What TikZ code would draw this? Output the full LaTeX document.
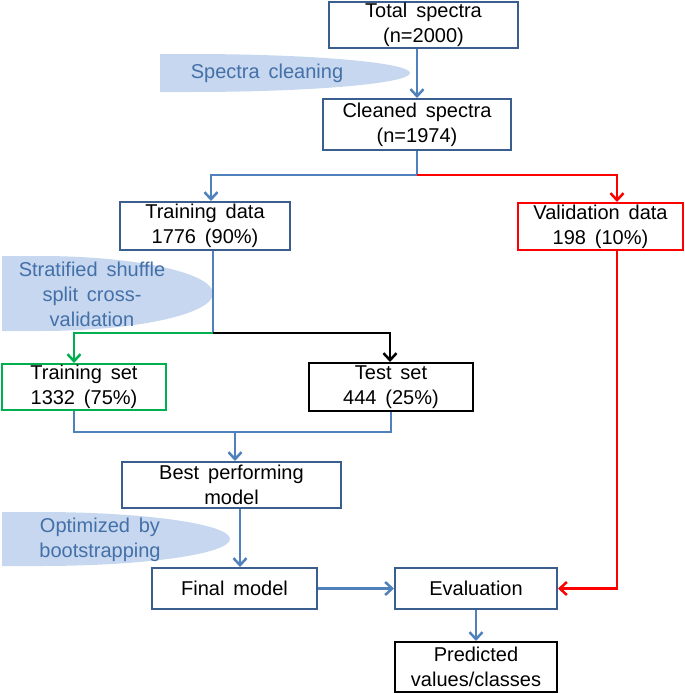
\documentclass[tikz,border=0pt]{standalone}
\usepackage{fontspec}
\setmainfont{Liberation Sans}[WordSpace=1.6]
\usetikzlibrary{arrows.meta,positioning}
\definecolor{boxblue}{HTML}{3A5F8F}
\definecolor{lineblue}{HTML}{4F81BD}
\definecolor{bubblefill}{HTML}{C6D7EF}
\definecolor{bubbletext}{HTML}{4470A8}
\definecolor{setgreen}{HTML}{00B050}
\tikzset{
  basic/.style={
  draw=boxblue,
  line width=2pt,
  fill=white,
  align=center,
  inner sep=0pt,
  font=\fontsize{20}{25}\selectfont,
  },
  boxsize/.style 2 args={minimum width=#1pt, minimum height=#2pt},
  bubble/.style={align=center, text=bubbletext, font=\fontsize{20}{25}\selectfont},
  conn/.style={draw=lineblue, line width=2.5pt},
  arr/.style={-{Straight Barb[length=7pt,width=13pt]}},
}
\begin{document}
\begin{tikzpicture}[x=1pt,y=-1pt]
\useasboundingbox (0,0) rectangle (685,694);

% the shaded notes
\fill[bubblefill] (160,54) -- (190,54) arc[start angle=-90,end angle=90,x radius=220,y radius=19] -- (160,92) -- cycle;
\node[bubble] (clean) at (267,73) {Spectra cleaning};

\fill[bubblefill] (2,256) -- (40,256) arc[start angle=-90,end angle=90,x radius=173,y radius=37.5] -- (2,331) -- cycle;
\node[bubble] (shuffle) at (92,294) {Stratified shuffle\\split cross-\\validation};

\fill[bubblefill] (2,512) -- (40,512) arc[start angle=-90,end angle=90,x radius=190,y radius=27] -- (2,566) -- cycle;
\node[bubble] (boot) at (100,540) {Optimized by\\bootstrapping};

% the boxes
\node[basic, boxsize={189}{46}] (total) at (423.5,25) {Total spectra\\(n=2000)};
\node[basic, boxsize={188}{51}] (cleaned) at (417,124.5) {Cleaned spectra\\(n=1974)};
\node[basic, boxsize={170}{48}] (traindata) at (205,226) {Training data\\1776 (90\%)};
\node[basic, boxsize={165}{47}, draw=red] (valdata) at (600.5,226.5) {Validation data\\198 (10\%)};
\node[basic, boxsize={164}{46}, draw=setgreen] (trainset) at (84,387) {Training set\\1332 (75\%)};
\node[basic, boxsize={164}{48}, draw=black] (testset) at (391,387) {Test set\\444 (25\%)};
\node[basic, boxsize={219}{46}] (best) at (231.5,485) {Best performing\\model};
\node[basic, boxsize={165}{41}] (final) at (234.5,588.5) {Final model};
\node[basic, boxsize={162}{41}] (eval) at (476,588.5) {Evaluation};
\node[basic, boxsize={162}{50}, draw=black] (pred) at (476,667) {Predicted\\values/classes};

% split points
\coordinate (split1) at (417,175);
\coordinate (split2) at (213,333);
\coordinate (merge) at (235,432);

% lines
\draw[conn,arr] ([xshift=-6.5pt]total.south) -- (cleaned.north);
\draw[conn] (cleaned.south) -- (split1);
\draw[conn,arr] (split1) -| ([xshift=6pt]traindata.north);
\draw[conn,draw=red,arr] (split1) -| ([xshift=16.5pt]valdata.north);

\draw[conn] (split2 |- traindata.south) -- (split2);
\draw[conn,draw=setgreen,arr] (split2) -| ([xshift=-10pt]trainset.north);
\draw[conn,draw=black,arr] (split2) -| ([xshift=-1pt]testset.north);

\draw[conn] ([xshift=-10pt]trainset.south) |- (merge -| testset.south) -- (testset.south);
\draw[conn,arr] (merge) -- (merge |- best.north);

\draw[conn,arr] ([xshift=8.5pt]best.south) -- ([xshift=8.5pt]best.south |- final.north);
\draw[conn,arr] (final.east) -- (eval.west);
\draw[conn,arr] (eval.south) -- (pred.north);
\draw[conn,draw=red,arr] ([xshift=16.5pt]valdata.south) |- (eval.east);

\end{tikzpicture}
\end{document}
